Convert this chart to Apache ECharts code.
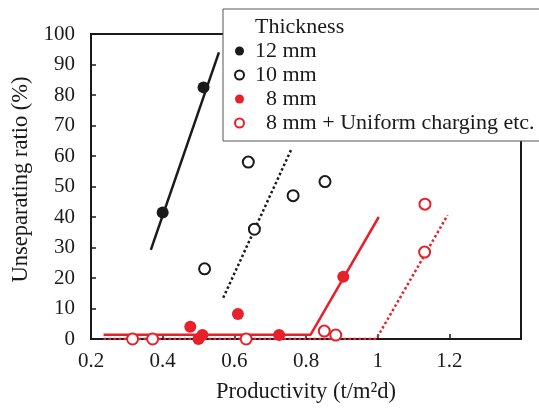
<!doctype html>
<html>
<head>
    <meta charset="UTF-8">
    <title>Unseparating ratio vs productivity</title>
    <script src="https://cdn.jsdelivr.net/npm/echarts@6/dist/echarts.min.js"></script>
</head>
<body style="margin:0">
<div id="main" style="width:539px;height:409px;"></div>
<script type="text/javascript">
    // measured points, [productivity, ratio]
    var thick12 = [[0.40, 41.5], [0.514, 82.5]];
    var thick10 = [[0.517, 23], [0.639, 58], [0.656, 36], [0.764, 47], [0.853, 51.6]];
    var thick8 = [[0.477, 4], [0.50, 0], [0.511, 1.3], [0.61, 8.2], [0.725, 1.3], [0.904, 20.4]];
    var thick8u = [[0.316, 0], [0.372, 0], [0.633, 0], [0.851, 2.6], [0.883, 1.3], [1.131, 28.5], [1.132, 44.2]];
    // trend lines
    var fit12 = [[0.367, 29.2], [0.557, 94]];
    var fit10 = [[0.569, 13.5], [0.761, 62.7]];
    var fit8 = [[0.235, 1.4], [0.813, 1.4], [1.003, 40]];
    var fit8u = [[0.235, 0], [0.996, 0], [1.195, 40.6]];
    var names = ['12 mm', '10 mm', '8 mm', '8 mm + Uniform charging etc.'];

    var BLACK = '#1a1a1a';
    var RED = '#e8202a';
    var FONT = 'Liberation Serif';

    var myChart = echarts.init(document.getElementById('main'));

    function trend(data, color, type) {
        return {
            type: 'line', data: data, showSymbol: false, silent: true, z: 2,
            lineStyle: {color: color, width: 2.5, type: type}
        };
    }

    var option = {
        animation: false,
        textStyle: {fontFamily: FONT},
        grid: {left: 91, right: 18, top: 34, bottom: 69, show: true, borderColor: BLACK, borderWidth: 2},
        legend: {
            data: names,
            orient: 'vertical',
            left: 223, top: 9,
            padding: [30, 8, 6, 11],
            itemGap: 0,
            itemWidth: 9, itemHeight: 9,
            backgroundColor: '#fff',
            borderColor: '#555', borderWidth: 1,
            z: 10,
            textStyle: {fontFamily: FONT, fontSize: 22, color: BLACK, lineHeight: 24, padding: [0, 0, 0, 6]},
            formatter: function (n) { return n.indexOf('8 mm') === 0 ? '  ' + n : n; }
        },
        graphic: [{
            type: 'text', left: 255, top: 16, z: 20,
            style: {text: 'Thickness', font: '22px "Liberation Serif"', fill: BLACK}
        }],
        xAxis: {
            type: 'value', min: 0.2, max: 1.4, interval: 0.2,
            name: 'Productivity (t/m²d)', nameLocation: 'middle', nameGap: 42,
            nameTextStyle: {fontFamily: FONT, fontSize: 22.5, color: BLACK},
            axisLine: {lineStyle: {color: BLACK, width: 2}},
            axisTick: {inside: true, length: 5, lineStyle: {color: BLACK, width: 1.5}},
            axisLabel: {
                fontFamily: FONT, fontSize: 21, color: BLACK, margin: 12,
                formatter: function (v) { return Math.abs(v - 1.4) < 1e-6 ? '' : String(+v.toFixed(1)); }
            },
            splitLine: {show: false}
        },
        yAxis: {
            type: 'value', min: 0, max: 100, interval: 10,
            name: 'Unseparating ratio (%)', nameLocation: 'middle', nameGap: 49,
            nameTextStyle: {fontFamily: FONT, fontSize: 22.5, color: BLACK, padding: [0, 0, 0, 14]},
            axisLine: {show: true, lineStyle: {color: BLACK, width: 2}},
            axisTick: {show: true, inside: true, length: 5, lineStyle: {color: BLACK, width: 1.5}},
            axisLabel: {fontFamily: FONT, fontSize: 21, color: BLACK, margin: 16},
            splitLine: {show: false}
        },
        series: [
            trend(fit12, BLACK, 'solid'),
            trend(fit10, BLACK, 'dotted'),
            trend(fit8, RED, 'solid'),
            trend(fit8u, RED, 'dotted'),
            {name: names[0], type: 'scatter', data: thick12, symbol: 'circle', symbolSize: 12, z: 3,
                itemStyle: {color: BLACK, opacity: 1}},
            {name: names[1], type: 'scatter', data: thick10, symbol: 'emptyCircle', symbolSize: 11, z: 3,
                itemStyle: {color: BLACK, borderColor: BLACK, borderWidth: 1.6, opacity: 1}},
            {name: names[2], type: 'scatter', data: thick8, symbol: 'circle', symbolSize: 12, z: 3,
                itemStyle: {color: RED, opacity: 1}},
            {name: names[3], type: 'scatter', data: thick8u, symbol: 'emptyCircle', symbolSize: 11, z: 3,
                itemStyle: {color: RED, borderColor: RED, borderWidth: 1.6, opacity: 1}}
        ]
    };
    myChart.setOption(option);
</script>
</body>
</html>
